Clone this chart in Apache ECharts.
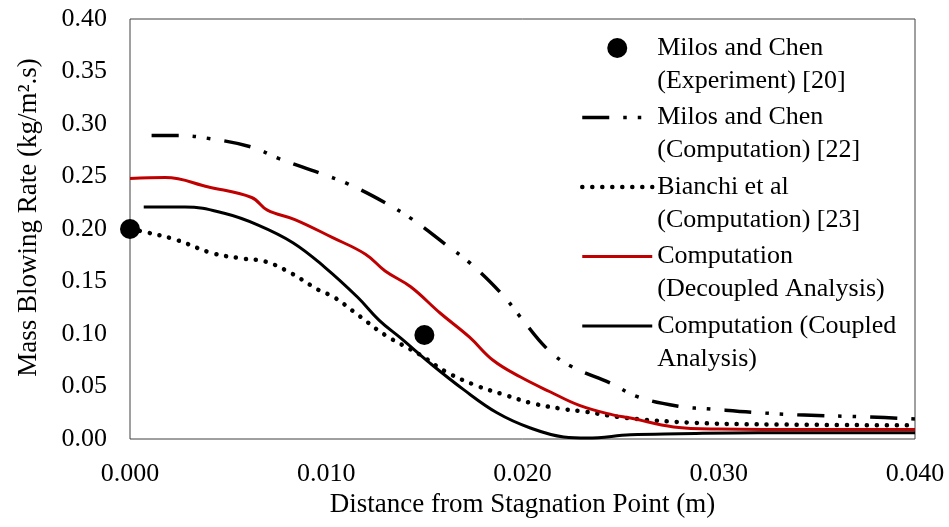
<!DOCTYPE html>
<html>
<head>
<meta charset="utf-8">
<script src="https://cdn.jsdelivr.net/npm/echarts@6/dist/echarts.min.js"></script>
<style>
html, body { margin: 0; padding: 0; background: #fff; }
#chart { width: 949px; height: 527px; }
</style>
</head>
<body>
<div id="chart"></div>
<script>
// ---- Data ----
const xTickLabels = ['0.000', '0.010', '0.020', '0.030', '0.040'];
const yTickLabels = ['0.00', '0.05', '0.10', '0.15', '0.20', '0.25', '0.30', '0.35', '0.40'];

const seriesNames = [
  'Milos and Chen\n(Experiment) [20]',
  'Milos and Chen\n(Computation) [22]',
  'Bianchi et al\n(Computation) [23]',
  'Computation\n(Decoupled Analysis)',
  'Computation (Coupled\nAnalysis)'
];

const expX = [0.000, 0.015];
const expY = [0.200, 0.099];

const milosX = [0.0011, 0.0024, 0.0041, 0.0062, 0.0076, 0.0097, 0.0111, 0.0130, 0.0144, 0.0161, 0.0173, 0.0190, 0.0199, 0.0213, 0.0225, 0.0245, 0.0259, 0.0280, 0.0296, 0.0317, 0.0340, 0.0377, 0.0400];
const milosY = [0.289, 0.289, 0.286, 0.278, 0.267, 0.253, 0.243, 0.225, 0.209, 0.185, 0.168, 0.137, 0.116, 0.085, 0.069, 0.053, 0.040, 0.031, 0.0286, 0.0255, 0.023, 0.021, 0.019];

const bianchiX = [0.0000, 0.0008, 0.0023, 0.0042, 0.0057, 0.0069, 0.0082, 0.0096, 0.0104, 0.0117, 0.0130, 0.0148, 0.0161, 0.0177, 0.0191, 0.0205, 0.0221, 0.0232, 0.0253, 0.0287, 0.0320, 0.0400];
const bianchiY = [0.200, 0.197, 0.190, 0.177, 0.172, 0.169, 0.158, 0.142, 0.135, 0.117, 0.099, 0.080, 0.064, 0.0505, 0.042, 0.034, 0.0285, 0.026, 0.020, 0.0155, 0.014, 0.013];

const decoupledX = [0.0000, 0.0018, 0.0040, 0.0062, 0.0070, 0.0084, 0.0103, 0.0120, 0.0130, 0.0143, 0.0158, 0.0173, 0.0185, 0.0199, 0.0214, 0.0229, 0.0246, 0.0255, 0.0277, 0.0300, 0.0350, 0.0400];
const decoupledY = [0.248, 0.249, 0.240, 0.230, 0.218, 0.209, 0.192, 0.176, 0.160, 0.145, 0.120, 0.097, 0.075, 0.059, 0.045, 0.032, 0.023, 0.020, 0.0115, 0.0095, 0.009, 0.009];

const coupledX = [0.0007, 0.0028, 0.0048, 0.0065, 0.0083, 0.0099, 0.0116, 0.0127, 0.0138, 0.0153, 0.0170, 0.0187, 0.0204, 0.0221, 0.0233, 0.0255, 0.0280, 0.0320, 0.0400];
const coupledY = [0.221, 0.221, 0.215, 0.204, 0.187, 0.164, 0.135, 0.113, 0.096, 0.072, 0.047, 0.025, 0.0105, 0.002, 0.001, 0.004, 0.005, 0.006, 0.006];

function pairs(xs, ys) { return xs.map((x, i) => [x, ys[i]]); }

const FONT = 'Liberation Serif';
const dashDot = [27, 14, 3.5, 11, 3.5, 14];
const dotted = [0.1, 9.9];
const hiddenSymbol = { color: 'rgba(0,0,0,0)', borderWidth: 0, opacity: 0 };

const chart = echarts.init(document.getElementById('chart'), null, { renderer: 'canvas' });
chart.setOption({
  animation: false,
  backgroundColor: '#ffffff',
  textStyle: { fontFamily: FONT, color: '#000' },
  grid: {
    left: 130, top: 19, right: 34, bottom: 88,
    containLabel: false,
    outerBoundsMode: 'none',
    show: true, borderColor: '#404040', borderWidth: 1
  },
  legend: {
    left: 580, top: -1.5, orient: 'vertical', padding: 0,
    itemWidth: 70, itemHeight: 20, itemGap: -29.5,
    selectedMode: false,
    formatter: (name) => ' \n' + name,
    textStyle: { fontFamily: FONT, fontSize: 26, color: '#000', lineHeight: 33 },
    data: [
      { name: seriesNames[0], icon: 'circle', itemStyle: { color: '#000', opacity: 1 } },
      { name: seriesNames[1], itemStyle: hiddenSymbol, lineStyle: { width: 3.5, type: dashDot, cap: 'butt', color: '#000' } },
      { name: seriesNames[2], itemStyle: hiddenSymbol, lineStyle: { width: 4.5, type: dotted, cap: 'round', color: '#000' } },
      { name: seriesNames[3], itemStyle: hiddenSymbol, lineStyle: { width: 3, type: 'solid', color: '#c00000' } },
      { name: seriesNames[4], itemStyle: hiddenSymbol, lineStyle: { width: 3, type: 'solid', color: '#000' } }
    ]
  },
  xAxis: {
    type: 'value', min: 0, max: 0.04, interval: 0.01,
    name: 'Distance from Stagnation Point (m)', nameLocation: 'middle', nameGap: 52,
    nameMoveOverlap: false,
    nameTextStyle: { fontFamily: FONT, fontSize: 27, color: '#000' },
    axisLine: { show: false }, axisTick: { show: false }, splitLine: { show: false },
    axisLabel: {
      fontFamily: FONT, fontSize: 26, color: '#000', margin: 22,
      formatter: (v, i) => xTickLabels[i] !== undefined ? xTickLabels[i] : v.toFixed(3)
    }
  },
  yAxis: {
    type: 'value', min: 0, max: 0.4, interval: 0.05,
    name: 'Mass Blowing Rate (kg/m\u00B2.s)', nameLocation: 'middle', nameGap: 88,
    nameMoveOverlap: false,
    nameTextStyle: { fontFamily: FONT, fontSize: 27, color: '#000', padding: [0, 0, 0, 23] },
    axisLine: { show: false }, axisTick: { show: false }, splitLine: { show: false },
    axisLabel: {
      fontFamily: FONT, fontSize: 26, color: '#000', margin: 23,
      formatter: (v, i) => yTickLabels[i] !== undefined ? yTickLabels[i] : v.toFixed(2)
    }
  },
  series: [
    {
      name: seriesNames[0], type: 'scatter', data: pairs(expX, expY),
      symbol: 'circle', symbolSize: 20, itemStyle: { color: '#000', opacity: 1 }, z: 10, clip: false
    },
    {
      name: seriesNames[1], type: 'line', data: pairs(milosX, milosY),
      symbol: 'none', showSymbol: false, smooth: 0.4,
      lineStyle: { color: '#000', width: 3.5, type: dashDot, cap: 'butt' }, itemStyle: { color: '#000' }
    },
    {
      name: seriesNames[2], type: 'line', data: pairs(bianchiX, bianchiY),
      symbol: 'none', showSymbol: false, smooth: 0.4,
      lineStyle: { color: '#000', width: 4.5, type: dotted, cap: 'round' }, itemStyle: { color: '#000' }
    },
    {
      name: seriesNames[3], type: 'line', data: pairs(decoupledX, decoupledY),
      symbol: 'none', showSymbol: false, smooth: 0.4,
      lineStyle: { color: '#c00000', width: 3 }, itemStyle: { color: '#c00000' }
    },
    {
      name: seriesNames[4], type: 'line', data: pairs(coupledX, coupledY),
      symbol: 'none', showSymbol: false, smooth: 0.4,
      lineStyle: { color: '#000', width: 3 }, itemStyle: { color: '#000' }
    }
  ]
});
</script>
</body>
</html>
